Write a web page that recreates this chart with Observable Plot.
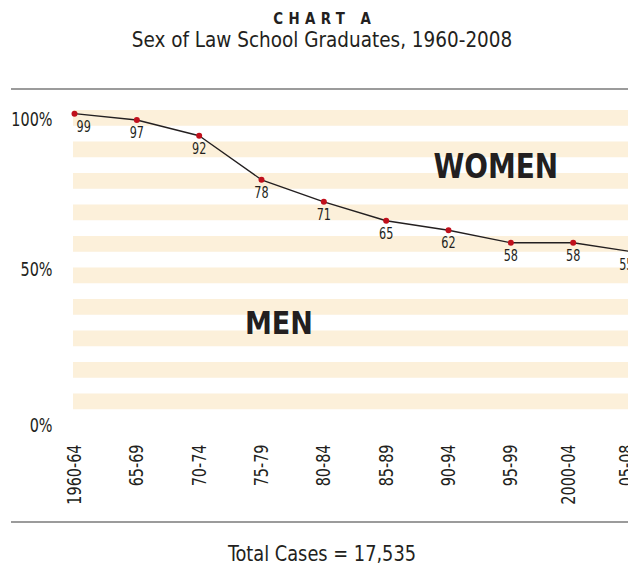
<!DOCTYPE html>
<html>
<head>
<meta charset="utf-8">
<script src="https://cdn.jsdelivr.net/npm/d3@7"></script>
<script src="https://cdn.jsdelivr.net/npm/@observablehq/plot@0.6"></script>
<style>
  html, body { margin: 0; padding: 0; background: #fff; overflow: hidden; width: 628px; height: 569px; }
  body { position: relative; font-family: "Liberation Sans Narrow", "DejaVu Sans Condensed", "Arial Narrow", sans-serif; color: #231f20; font-stretch: condensed; }
  .t { position: absolute; left: 0; width: 644px; text-align: center; white-space: nowrap; line-height: 1; transform-origin: 322px 50%; }
  #title { top: 10.6px; font-size: 16.5px; font-weight: bold; letter-spacing: 6px; text-indent: 6px; transform: scaleX(0.9); }
  #subtitle { top: 29.9px; font-size: 21px; transform: scaleX(0.975); }
  #caption { top: 542.5px; font-size: 21.5px; transform: scaleX(0.92); }
  .rule { position: absolute; left: 11px; width: 700px; height: 2px; background: #9b9b9b; }
  #chart { position: absolute; left: 0; top: 90px; }
</style>
</head>
<body>
<div class="t" id="title">CHART A</div>
<div class="t" id="subtitle">Sex of Law School Graduates, 1960-2008</div>
<div class="rule" style="top:88px"></div>
<div id="chart"></div>
<div class="rule" style="top:521px"></div>
<div class="t" id="caption">Total Cases = 17,535</div>
<script>
// Data
const periods = ["1960-64", "65-69", "70-74", "75-79", "80-84", "85-89", "90-94", "95-99", "2000-04", "05-08"];
const menPct = [99, 97, 92, 78, 71, 65, 62, 58, 58, 55];
const yTicks = [0, 50, 100];
const stripeLow = [5, 15, 25, 35, 45, 55, 65, 75, 85, 95];
const stripeWidth = 5;

const idx = d3.range(periods.length);
const last = periods.length - 1;
const fontFam = '"Liberation Sans Narrow", "DejaVu Sans Condensed", "Arial Narrow", sans-serif';

const xAxisOpts = { tickFormat: i => periods[i], tickRotate: -90, tickSize: 0, tickPadding: 19, fontSize: 20 };
const yAxisOpts = { tickFormat: d => d + "%", tickSize: 0, tickPadding: 22, fontSize: 20 };
const label = (extra) => Object.assign({ x: i => i, y: i => menPct[i], text: i => String(menPct[i]), dy: 13, fontSize: 16 }, extra);

const chart = Plot.plot({
  width: 628,
  height: 431,
  marginTop: 20,
  marginBottom: 96,
  marginLeft: 74,
  marginRight: -7,
  style: { fontFamily: fontFam, fontSize: "20px", color: "#231f20", background: "transparent" },
  x: { type: "linear", domain: [0, last] },
  y: { domain: [0, 100] },
  marks: [
    Plot.rect(stripeLow, { x1: 0, x2: periods.length, y1: d => d, y2: d => d + stripeWidth, fill: "#fcf0da", insetLeft: -1 }),
    Plot.axisY(yTicks.filter(d => d === 0), yAxisOpts),
    Plot.axisY(yTicks.filter(d => d === 50), { ...yAxisOpts, dy: 2 }),
    Plot.axisY(yTicks.filter(d => d === 100), { ...yAxisOpts, dy: 9 }),
    Plot.axisX(idx.slice(0, 8), xAxisOpts),
    Plot.axisX([8], { ...xAxisOpts, dx: -5 }),
    Plot.axisX([9], { ...xAxisOpts, dx: -9 }),
    Plot.line(idx, { x: i => i, y: i => menPct[i], stroke: "#231f20", strokeWidth: 1.4 }),
    Plot.dot(idx, { x: i => i, y: i => menPct[i], r: 3, fill: "#c0101c", stroke: "none" }),
    Plot.text(idx, label({ filter: i => i === 0, dx: 2, textAnchor: "start" })),
    Plot.text(idx, label({ filter: i => i > 0 && i < last })),
    Plot.text(idx, label({ filter: i => i === last, dx: -2, textAnchor: "end" })),
    Plot.text(["WOMEN"], { x: 6.76, y: 82, text: d => d, fontSize: 33, fontWeight: "bold", letterSpacing: "5px" }),
    Plot.text(["MEN"], { x: 3.28, y: 32.2, text: d => d, fontSize: 32, fontWeight: "bold", letterSpacing: "5px" })
  ]
});

// Condense glyphs horizontally to mimic the reference's condensed typeface
chart.querySelectorAll("text").forEach(t => {
  const g = t.closest("g[font-size]");
  const fs = g ? parseFloat(g.getAttribute("font-size")) : 20;
  const s = fs >= 30 ? 0.94 : (fs >= 20 ? 0.8 : 0.78);
  const tr = t.getAttribute("transform");
  if (tr) t.setAttribute("transform", tr + ` scale(${s},1)`);
});
document.getElementById("chart").appendChild(chart);
</script>
</body>
</html>
